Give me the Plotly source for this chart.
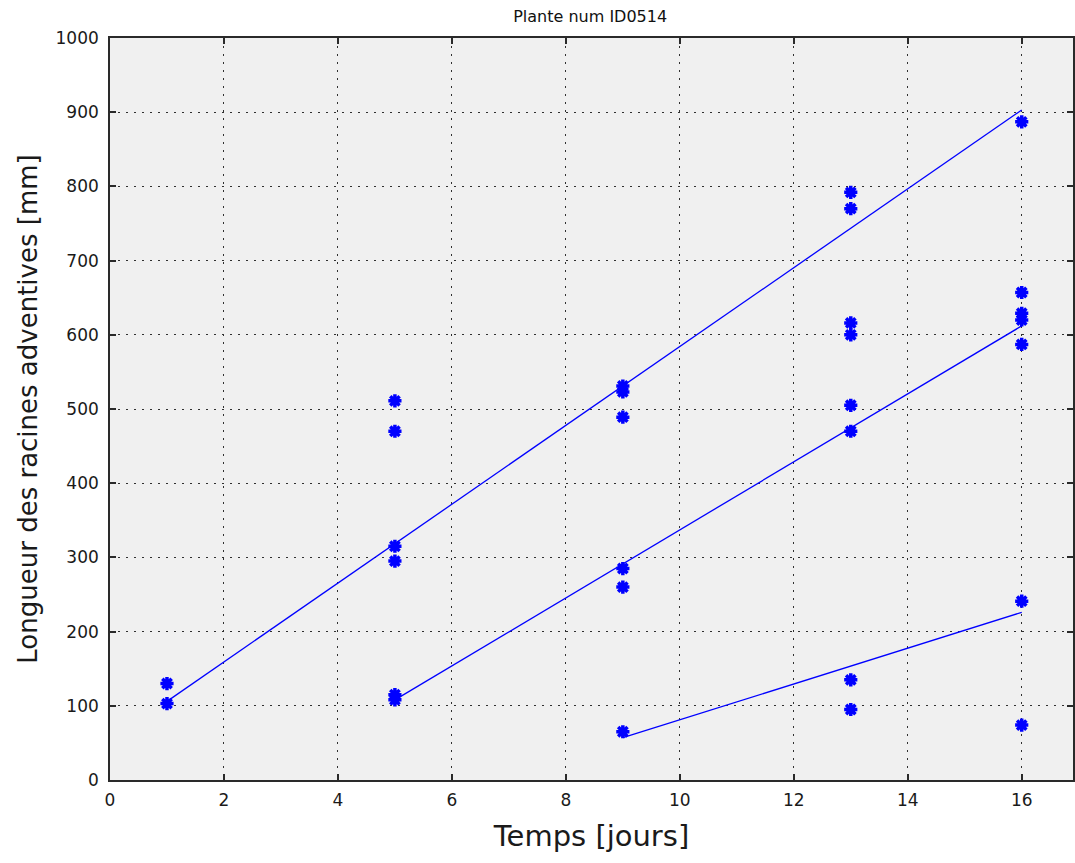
import plotly.graph_objects as go

# Root length measurements (mm) per observation day
jours_obs = [1, 1,
             5, 5, 5, 5, 5, 5,
             9, 9, 9, 9, 9, 9,
             13, 13, 13, 13, 13, 13, 13, 13,
             16, 16, 16, 16, 16, 16, 16]
longueurs_obs = [130, 103,
                 511, 470, 315, 295, 115, 108,
                 531, 523, 489, 285, 260, 65,
                 792, 770, 616, 600, 505, 470, 135, 95,
                 887, 657, 629, 620, 587, 241, 74]

# Linear growth trends for the three root cohorts
trend_jours = [[1, 16], [5, 16], [9, 16]]
trend_longueurs = [[106, 903], [108, 612], [57, 226]]

titre = "Plante num ID0514"
x_ticks = [0, 2, 4, 6, 8, 10, 12, 14, 16]
y_ticks = [0, 100, 200, 300, 400, 500, 600, 700, 800, 900, 1000]

BLUE = "#0000ff"
FONT = "DejaVu Sans, Liberation Sans, sans-serif"

fig = go.Figure()

for xs, ys in zip(trend_jours, trend_longueurs):
    fig.add_trace(go.Scatter(x=xs, y=ys, mode="lines",
                             line=dict(color=BLUE, width=1.3),
                             showlegend=False, hoverinfo="skip"))

fig.add_trace(go.Scatter(
    x=jours_obs, y=longueurs_obs, mode="markers",
    marker=dict(symbol="asterisk", size=11, color=BLUE,
                line=dict(color=BLUE, width=3.5)),
    showlegend=False))

axis_common = dict(
    showline=True, linecolor="#2a2a2a", linewidth=1.6, mirror="ticks",
    ticks="inside", ticklen=6, tickwidth=1.6, tickcolor="#2a2a2a",
    showgrid=True, gridcolor="#303030", gridwidth=1.2, griddash="2px,6px",
    zeroline=False,
    tickfont=dict(family=FONT, size=17, color="#1a1a1a"),
)

fig.update_layout(
    width=1075, height=863,
    margin=dict(l=110, r=0, t=38, b=83),
    paper_bgcolor="white",
    plot_bgcolor="#f0f0f0",
    title=dict(text=titre, x=0.549, xanchor="center", y=0.981, yanchor="middle",
               font=dict(family=FONT, size=16, color="#111111")),
    xaxis=dict(range=[0, 16.9], tickvals=x_ticks, ticklabelstandoff=4,
               title=dict(text="Temps [jours]", standoff=16,
                          font=dict(family=FONT, size=29, color="#1a1a1a")),
               **axis_common),
    yaxis=dict(range=[0, 1000], tickvals=y_ticks, ticklabelstandoff=6,
               title=dict(text="Longueur des racines adventives [mm]", standoff=10,
                          font=dict(family=FONT, size=26, color="#1a1a1a")),
               **axis_common),
)

fig.write_html("out.html")
